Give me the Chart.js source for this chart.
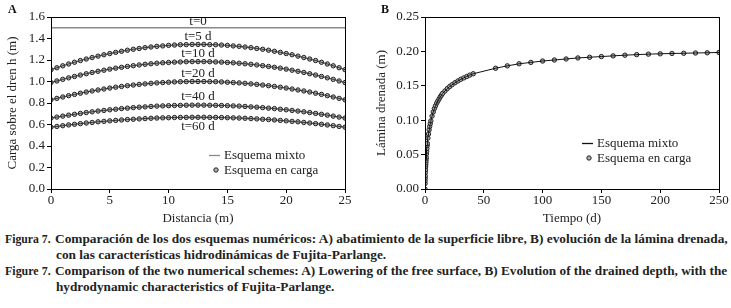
<!DOCTYPE html>
<html><head><meta charset="utf-8">
<script src="https://cdn.jsdelivr.net/npm/chart.js@4.4.1/dist/chart.umd.min.js"></script>
<style>
html,body{margin:0;padding:0;background:#fff;width:731px;height:308px;overflow:hidden;}
#cA{position:absolute;left:0;top:0;}
#cB{position:absolute;left:365px;top:0;}
.panel{position:absolute;font-family:"Liberation Serif",serif;font-weight:bold;font-size:12px;color:#111;line-height:12px;}
.cap{position:absolute;font-family:"Liberation Serif",serif;font-weight:bold;font-size:13px;color:#222;white-space:nowrap;transform-origin:0 50%;line-height:16px;}
</style></head><body>
<canvas id="cA" width="365" height="228"></canvas>
<canvas id="cB" width="366" height="228"></canvas>
<div class="panel" style="left:8px;top:3px;">A</div>
<div class="panel" style="left:381px;top:3px;">B</div>
<div class="cap" style="left:5px;top:231px;" data-w="46">Figura 7.</div>
<div class="cap" id="l1" style="left:55px;top:231px;" data-w="673">Comparación de los dos esquemas numéricos: A) abatimiento de la superficie libre, B) evolución de la lámina drenada,</div>
<div class="cap" id="l2" style="left:56px;top:247px;" data-ref="l1">con las características hidrodinámicas de Fujita-Parlange.</div>
<div class="cap" style="left:5px;top:263px;" data-w="46">Figure 7.</div>
<div class="cap" id="l3" style="left:55px;top:263px;" data-w="672">Comparison of the two numerical schemes: A) Lowering of the free surface, B) Evolution of the drained depth, with the</div>
<div class="cap" id="l4" style="left:56px;top:279px;" data-ref="l3">hydrodynamic characteristics of Fujita-Parlange.</div>
<script>
// ---------- DATA ----------
// Panel A: distance along the field (m)
const distancia = [0,0.5,1,1.5,2,2.5,3,3.5,4,4.5,5,5.5,6,6.5,7,7.5,8,8.5,9,9.5,10,10.5,11,11.5,12,12.5,13,13.5,14,14.5,15,15.5,16,16.5,17,17.5,18,18.5,19,19.5,20,20.5,21,21.5,22,22.5,23,23.5,24,24.5,25];
const tiemposA = ['t=0','t=5 d','t=10 d','t=20 d','t=40 d','t=60 d'];
const hInicial = [1.5, 1.5];          // t=0, at x = 0 and x = 25
const xInicial = [0, 25];
const h5 = [1.110,1.128,1.146,1.163,1.179,1.195,1.209,1.223,1.236,1.249,1.260,1.271,1.281,1.291,1.300,1.307,1.315,1.321,1.327,1.331,1.336,1.339,1.342,1.343,1.345,1.345,1.345,1.343,1.342,1.339,1.336,1.331,1.327,1.321,1.315,1.307,1.300,1.291,1.281,1.271,1.260,1.249,1.236,1.223,1.209,1.195,1.179,1.163,1.146,1.128,1.110];
const h10 = [0.990,1.005,1.020,1.034,1.047,1.060,1.072,1.084,1.095,1.105,1.115,1.124,1.132,1.140,1.147,1.154,1.160,1.165,1.170,1.174,1.177,1.180,1.182,1.184,1.185,1.185,1.185,1.184,1.182,1.180,1.177,1.174,1.170,1.165,1.160,1.154,1.147,1.140,1.132,1.124,1.115,1.105,1.095,1.084,1.072,1.060,1.047,1.034,1.020,1.005,0.990];
const h20 = [0.830,0.843,0.856,0.868,0.880,0.891,0.902,0.912,0.921,0.930,0.939,0.947,0.954,0.961,0.967,0.973,0.978,0.983,0.987,0.990,0.993,0.996,0.998,0.999,1.000,1.000,1.000,0.999,0.998,0.996,0.993,0.990,0.987,0.983,0.978,0.973,0.967,0.961,0.954,0.947,0.939,0.930,0.921,0.912,0.902,0.891,0.880,0.868,0.856,0.843,0.830];
const h40 = [0.660,0.669,0.678,0.687,0.695,0.703,0.711,0.718,0.725,0.731,0.737,0.742,0.748,0.752,0.757,0.761,0.764,0.768,0.771,0.773,0.775,0.777,0.778,0.779,0.780,0.780,0.780,0.779,0.778,0.777,0.775,0.773,0.771,0.768,0.764,0.761,0.757,0.752,0.748,0.742,0.737,0.731,0.725,0.718,0.711,0.703,0.695,0.687,0.678,0.669,0.660];
const h60 = [0.575,0.582,0.589,0.596,0.602,0.608,0.614,0.619,0.625,0.629,0.634,0.638,0.642,0.646,0.649,0.652,0.655,0.658,0.660,0.662,0.663,0.665,0.666,0.666,0.667,0.667,0.667,0.666,0.666,0.665,0.663,0.662,0.660,0.658,0.655,0.652,0.649,0.646,0.642,0.638,0.634,0.629,0.625,0.619,0.614,0.608,0.602,0.596,0.589,0.582,0.575];
// label anchor heights (m) for the curve names
const etiquetaY = [1.556, 1.417, 1.258, 1.072, 0.857, 0.578];
// Panel B: time (d) and drained depth (m)
const tiempo = [0,0.05,0.1,0.15,0.2,0.3,0.4,0.5,0.6,0.7,0.8,0.9,1,1.2,1.4,1.6,1.8,2,2.5,3,3.5,4,4.5,5,6,7,8,9,10,11,12,13,14,15,17,19,21,23,25.5,28,30.5,33,35.5,38,41,60,70,80,90,100,110,120,130,140,150,160,170,180,190,200,210,220,230,240,250];
const lamina = [0,0.008,0.012,0.016,0.019,0.024,0.028,0.032,0.035,0.038,0.041,0.044,0.046,0.051,0.055,0.059,0.063,0.066,0.074,0.080,0.086,0.091,0.095,0.099,0.106,0.112,0.117,0.121,0.125,0.128,0.131,0.134,0.1365,0.139,0.1425,0.146,0.149,0.1515,0.1545,0.157,0.1595,0.1615,0.1635,0.1655,0.1675,0.1755,0.179,0.182,0.184,0.186,0.1875,0.189,0.1905,0.1915,0.1925,0.1935,0.1945,0.1953,0.196,0.1965,0.197,0.1973,0.1977,0.198,0.1985];
// tick values
const ticksAx = [0,5,10,15,20,25];
const ticksAy = [0,0.2,0.4,0.6,0.8,1.0,1.2,1.4,1.6];
const ticksBx = [0,50,100,150,200,250];
const ticksBy = [0,0.05,0.10,0.15,0.20,0.25];
const leyenda = ['Esquema mixto','Esquema en carga'];

// ---------- HELPERS ----------
const FONT = '"Liberation Serif", "DejaVu Serif", serif';
const font13 = {family: FONT, size: 13};
const TXT = '#222';
const zip = (xs, ys) => xs.map((x, i) => ({x, y: ys[i]}));
const MARK = {pointRadius: 2.2, pointBorderColor: '#222', pointBackgroundColor: '#b0b0b0', pointBorderWidth: 1, showLine: false};

const framePlugin = {
  id: 'frame',
  afterDraw(chart) {
    const {ctx, chartArea: a} = chart;
    ctx.save();
    ctx.strokeStyle = '#000'; ctx.lineWidth = 1;
    ctx.strokeRect(Math.round(a.left) + 0.5, Math.round(a.top) + 0.5, Math.round(a.right - a.left), Math.round(a.bottom - a.top));
    ctx.restore();
  }
};

function legendPlugin(lineColor, lx, ly) {
  return {
    id: 'leg',
    afterDraw(chart) {
      const ctx = chart.ctx;
      ctx.save();
      ctx.strokeStyle = lineColor; ctx.lineWidth = 1.3;
      ctx.beginPath(); ctx.moveTo(lx, ly + 0.5); ctx.lineTo(lx + 11, ly + 0.5); ctx.stroke();
      ctx.beginPath(); ctx.arc(lx + 7, ly + 15, 2.2, 0, Math.PI * 2);
      ctx.fillStyle = '#b0b0b0'; ctx.fill(); ctx.strokeStyle = '#222'; ctx.lineWidth = 1; ctx.stroke();
      ctx.fillStyle = TXT; ctx.font = '13px ' + FONT; ctx.textBaseline = 'middle'; ctx.textAlign = 'left';
      ctx.fillText(leyenda[0], lx + 15, ly + 1);
      ctx.fillText(leyenda[1], lx + 15, ly + 16);
      ctx.restore();
    }
  };
}

const curveLabels = {
  id: 'curveLabels',
  afterDatasetsDraw(chart) {
    const {ctx, scales: {x, y}} = chart;
    ctx.save();
    ctx.fillStyle = TXT; ctx.font = '13px ' + FONT; ctx.textAlign = 'center'; ctx.textBaseline = 'middle';
    tiemposA.forEach((t, i) => {
      ctx.fillText(t, x.getPixelForValue(12.5), y.getPixelForValue(etiquetaY[i]));
    });
    ctx.restore();
  }
};

function axis(min, max, vals, dec, titleText, isX, fitSize, titlePad) {
  return {
    type: 'linear', min, max,
    afterBuildTicks: s => { s.ticks = vals.map(v => ({value: v})); },
    ticks: {font: font13, color: TXT, padding: isX ? 0 : 2, maxRotation: 0, autoSkip: false,
            callback: v => Number(v).toFixed(dec)},
    grid: {drawOnChartArea: false, drawTicks: true, tickLength: 4, tickColor: '#000'},
    border: {display: true, color: '#000', width: 1},
    title: {display: true, text: titleText, font: font13, color: TXT, padding: titlePad},
    afterFit: s => { if (isX) s.height = fitSize; else s.width = fitSize; }
  };
}

// ---------- CHART A ----------
const seriesA = [h5, h10, h20, h40, h60];
const dsA = [{data: zip(xInicial, hInicial), showLine: true, borderColor: '#8a8a8a', borderWidth: 1.5, pointRadius: 0}];
seriesA.forEach(s => {
  dsA.push({data: zip(distancia, s), showLine: true, borderColor: '#333', borderWidth: 1, pointRadius: 0});
});
seriesA.forEach(s => {
  dsA.push(Object.assign({data: zip(distancia, s)}, MARK));
});

new Chart(document.getElementById('cA'), {
  type: 'scatter',
  data: {datasets: dsA},
  options: {
    responsive: false, animation: false, events: [],
    layout: {padding: {left: 0, right: 20, top: 17, bottom: 1}},
    plugins: {legend: {display: false}, tooltip: {enabled: false}},
    scales: {
      x: axis(0, 25, ticksAx, 0, 'Distancia (m)', true, 38, {top: 0, bottom: 1}),
      y: axis(0, 1.6, ticksAy, 1, 'Carga sobre el dren h (m)', false, 51, {top: 5, bottom: 0})
    }
  },
  plugins: [curveLabels, framePlugin, legendPlugin('#8a8a8a', 209, 155)]
});

// ---------- CHART B ----------
new Chart(document.getElementById('cB'), {
  type: 'scatter',
  data: {datasets: [
    {data: zip(tiempo, lamina), showLine: true, borderColor: '#111', borderWidth: 1, pointRadius: 0},
    Object.assign({data: zip(tiempo, lamina)}, MARK)
  ]},
  options: {
    responsive: false, animation: false, events: [],
    layout: {padding: {left: 0, right: 12, top: 17, bottom: 1}},
    plugins: {legend: {display: false}, tooltip: {enabled: false}},
    scales: {
      x: axis(0, 250, ticksBx, 0, 'Tiempo (d)', true, 38, {top: 0, bottom: 1}),
      y: axis(0, 0.25, ticksBy, 2, 'Lámina drenada (m)', false, 60, {top: 9, bottom: 0})
    }
  },
  plugins: [framePlugin, legendPlugin('#111', 217, 143)]
});

// ---------- CAPTION FIT ----------
function fitCaps() {
  const scales = {};
  document.querySelectorAll('.cap').forEach(el => { el.style.transform = 'none'; });
  document.querySelectorAll('.cap[data-w]').forEach(el => {
    const s = (+el.dataset.w) / el.scrollWidth;
    if (el.id) scales[el.id] = s;
    el.style.transform = 'scaleX(' + s + ')';
  });
  document.querySelectorAll('.cap[data-ref]').forEach(el => {
    el.style.transform = 'scaleX(' + scales[el.dataset.ref] + ')';
  });
}
fitCaps();
if (document.fonts && document.fonts.ready) document.fonts.ready.then(fitCaps);
</script>
</body></html>
